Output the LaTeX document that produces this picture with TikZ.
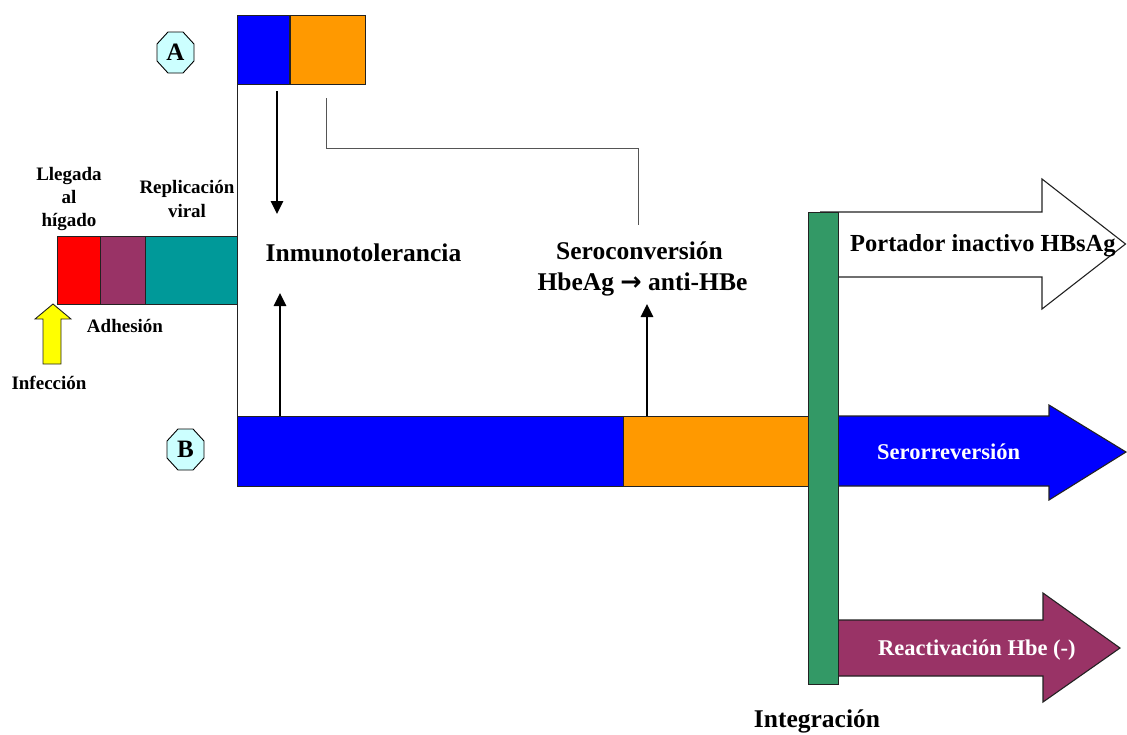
\documentclass[tikz,border=0pt]{standalone}
\usepackage{fontspec}
\setmainfont{Liberation Serif}
\newfontfamily\arrowfont{DejaVu Sans}
\usetikzlibrary{arrows.meta}
\definecolor{hbblue}{HTML}{0000FF}
\definecolor{hborange}{HTML}{FF9900}
\definecolor{hbred}{HTML}{FF0000}
\definecolor{hbplum}{HTML}{993366}
\definecolor{hbteal}{HTML}{009999}
\definecolor{hbgreen}{HTML}{339966}
\definecolor{hbyellow}{HTML}{FFFF00}
\definecolor{hbcyan}{HTML}{CCFFFF}
\definecolor{edge}{HTML}{222222}
\definecolor{guide}{HTML}{555555}

\begin{document}
\begin{tikzpicture}[x=1pt,y=-1pt,
  box/.style={draw=edge, line width=0.9pt, inner sep=0pt, outer sep=0pt, anchor=north west},
  tagframe/.style={inner sep=0pt, outer sep=0pt, minimum width=37pt, minimum height=41pt},
  tagline/.style={draw=black, line width=0.9pt, fill=hbcyan, line join=miter},
  tagtext/.style={inner sep=0pt, font=\fontsize{25}{27}\selectfont\bfseries},
  big/.style={font=\fontsize{25.5}{28}\selectfont\bfseries, inner sep=0pt},
  small/.style={font=\fontsize{19}{23.5}\selectfont\bfseries, align=center, inner sep=0pt},
  lbl/.style={font=\fontsize{22.5}{26}\selectfont\bfseries, inner sep=0pt, anchor=west},
  link/.style={line width=2.6pt, -{Triangle[length=13pt,width=12pt]}},
  fat/.style={draw=edge, line width=1.1pt, line join=miter}
]
\useasboundingbox (0,0) rectangle (1127,734);

% phase A: two-colour block
\node[box, fill=hbblue,   minimum width=52pt, minimum height=69pt] (ablue)   at (237,15) {};
\node[box, fill=hborange, minimum width=75pt, minimum height=69pt] (aorange) at (290,15) {};

% early infection strip
\node[box, fill=hbred,   minimum width=43pt, minimum height=68pt] (liver) at (57,236) {};
\node[box, fill=hbplum,  minimum width=45pt, minimum height=68pt] (adhes) at (100,236) {};
\node[box, fill=hbteal,  minimum width=92pt, minimum height=68pt] (repl)  at (145,236) {};

% phase B: long bar
\node[box, fill=hbblue,   minimum width=386pt, minimum height=70pt] (bblue)   at (237,416) {};
\node[box, fill=hborange, minimum width=185pt, minimum height=70pt] (borange) at (623,416) {};

% time axis joining both phases
\draw[edge, line width=0.9pt] (ablue.south west) -- (bblue.north west);

% outcome arrows
\draw[fat, fill=white] (820,212) -- (1042,212) -- (1042,179) -- (1125.5,244)
  -- (1042,309) -- (1042,277) -- (820,277);
\draw[fat, fill=hbblue] (820,416) -- (1049,416) -- (1049,405) -- (1126,452)
  -- (1049,500) -- (1049,486) -- (820,486) -- cycle;
\draw[fat, fill=hbplum] (820,620) -- (1043,620) -- (1043,593) -- (1120,648)
  -- (1043,702) -- (1043,676) -- (820,676) -- cycle;

% integration bar
\node[box, fill=hbgreen, minimum width=30pt, minimum height=472pt] (integ) at (808,212) {};

% infection arrow
\draw[fill=hbyellow, draw=edge, line width=0.9pt, line join=miter]
  (43,364) -- (43,319) -- (35,319) -- (53,304) -- (71,319) -- (61,319) -- (61,364) -- cycle;

% phase tags: octagons with a letter
\foreach \t/\p/\l in {tagA/{(175.5,52.5)}/A, tagB/{(185.5,449.5)}/B} {
  \node[tagframe] (\t) at \p {};
  \draw[tagline] ([xshift=11pt]\t.north west) -- ([xshift=-11pt]\t.north east)
    -- ([yshift=-12pt]\t.north east) -- ([yshift=12pt]\t.south east)
    -- ([xshift=-11pt]\t.south east) -- ([xshift=11pt]\t.south west)
    -- ([yshift=12pt]\t.south west) -- ([yshift=-12pt]\t.north west) -- cycle;
  \node[tagtext] (\t-letter) at (\t) {\l};
}

% labels
\node[small] (llegada) at (69,199) {Llegada\\al\\hígado};
\node[small] (replic)  at (187,199) {Replicación\\viral};
\node[small] (adhlbl)  at (125,326) {Adhesión};
\node[small] (inflbl)  at (49,383) {Infección};

\node[big] (inmuno) at (363.5,253) {Inmunotolerancia};
\node[big] (sero)   at (639.5,251) {Seroconversión};
\node[big] (hbe)    at (642.5,284) {HbeAg {\arrowfont\bfseries →} anti-HBe};
\node[big] (intlbl) at (817,721) {Integración};

\node[lbl, font=\fontsize{24.5}{28}\selectfont\bfseries] (portador) at (850,246) {Portador inactivo HBsAg};
\node[lbl, text=white] (serorr) at (877,452) {Serorreversión};
\node[lbl, text=white] (react)  at (878,650) {Reactivación Hbe (-)};

% connectors
\coordinate (downfrom) at (277,91);
\coordinate (downto)   at (277,214);
\draw[link] (downfrom) -- (downto);
\draw[link] ([xshift=43pt]bblue.north west) -- ++(0,-123);
\draw[link] ([xshift=24pt]borange.north west) -- ++(0,-112);

\coordinate (gfrom) at (326,98);
\coordinate (gto)   at (638,225);
\draw[guide, line width=1pt] (gfrom) -- ++(0,50) -- ++(312,0) -- (gto);
\end{tikzpicture}
\end{document}
